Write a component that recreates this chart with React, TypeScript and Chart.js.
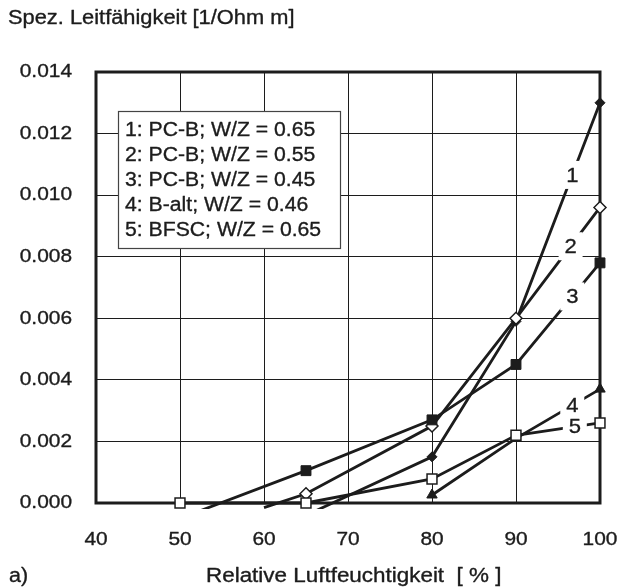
import { useEffect, useRef } from 'react';
import { Chart, registerables } from 'chart.js';

Chart.register(...registerables);

// ---------- data ----------
const humidity1 = [65, 80, 90, 100];
const conductivity1 = [-0.0004, 0.0015, 0.0059, 0.013];
const humidity2 = [60, 65, 80, 90, 100];
const conductivity2 = [-0.00015, 0.0003, 0.0025, 0.006, 0.0096];
const humidity3 = [50, 65, 80, 90, 100];
const conductivity3 = [-0.0005, 0.00105, 0.0027, 0.0045, 0.0078];
const humidity4 = [80, 90, 100];
const conductivity4 = [0.00026, 0.0021, 0.0037];
const humidity5 = [50, 65, 80, 90, 100];
const conductivity5 = [0, 0, 0.00078, 0.0022, 0.0026];

const seriesNames = [
  '1: PC-B; W/Z = 0.65',
  '2: PC-B; W/Z = 0.55',
  '3: PC-B; W/Z = 0.45',
  '4: B-alt; W/Z = 0.46',
  '5: BFSC; W/Z = 0.65',
];
const curveNumbers = ['1', '2', '3', '4', '5'];
const curveLabelHumidity = [96.7, 96.5, 96.7, 96.7, 97.0];

const xTickValues = [40, 50, 60, 70, 80, 90, 100];
const xTickLabels = ['40', '50', '60', '70', '80', '90', '100'];
const yTickValues = [0, 0.002, 0.004, 0.006, 0.008, 0.01, 0.012, 0.014];
const yTickLabels = ['0.000', '0.002', '0.004', '0.006', '0.008', '0.010', '0.012', '0.014'];

const yAxisTitle = 'Spez. Leitfähigkeit [1/Ohm m]';
const xAxisTitle = 'Relative Luftfeuchtigkeit  [ % ]';
const panelLabel = 'a)';

// ---------- helpers ----------
const INK = '#1c1c1c';
const FONT = '"Liberation Sans", Arial, Helvetica, sans-serif';

function stext(
  ctx: CanvasRenderingContext2D,
  text: string,
  x: number,
  y: number,
  align: CanvasTextAlign,
  size: number,
  sx = 1.1,
) {
  ctx.save();
  ctx.font = `${size}px ${FONT}`;
  ctx.fillStyle = INK;
  ctx.strokeStyle = INK;
  ctx.lineWidth = 0.35;
  ctx.lineJoin = 'round';
  ctx.textBaseline = 'middle';
  ctx.textAlign = align;
  ctx.translate(x, y);
  ctx.scale(sx, 1);
  ctx.fillText(text, 0, 0);
  ctx.strokeText(text, 0, 0);
  ctx.restore();
}

function interp(xs: number[], ys: number[], x: number) {
  for (let i = 0; i < xs.length - 1; i++) {
    if (x >= xs[i] && x <= xs[i + 1]) {
      const t = (x - xs[i]) / (xs[i + 1] - xs[i]);
      return ys[i] + t * (ys[i + 1] - ys[i]);
    }
  }
  return ys[ys.length - 1];
}

const allX = [humidity1, humidity2, humidity3, humidity4, humidity5];
const allY = [conductivity1, conductivity2, conductivity3, conductivity4, conductivity5];

const decorPlugin = {
  id: 'decor',
  beforeDraw(chart: any) {
    const ctx = chart.ctx as CanvasRenderingContext2D;
    ctx.save();
    ctx.fillStyle = '#ffffff';
    ctx.fillRect(0, 0, chart.width, chart.height);
    ctx.restore();
  },
  beforeDatasetsDraw(chart: any) {
    const ctx = chart.ctx as CanvasRenderingContext2D;
    const a = chart.chartArea;
    ctx.save();
    ctx.strokeStyle = INK;
    ctx.lineWidth = 3;
    ctx.strokeRect(a.left, a.top, a.right - a.left, a.bottom - a.top);
    ctx.restore();
  },
  afterDatasetsDraw(chart: any) {
    const ctx = chart.ctx as CanvasRenderingContext2D;
    const xs = chart.scales.x;
    const ys = chart.scales.y;
    // curve number labels on the lines
    for (let i = 0; i < curveNumbers.length; i++) {
      const hx = curveLabelHumidity[i];
      const vy = interp(allX[i], allY[i], hx);
      const px = xs.getPixelForValue(hx);
      const py = ys.getPixelForValue(vy);
      ctx.save();
      ctx.fillStyle = '#ffffff';
      ctx.fillRect(px - 12, py - 14, 24, 28);
      ctx.restore();
      stext(ctx, curveNumbers[i], px, py + 1, 'center', 21, 1.05);
    }
    // tick labels
    for (let i = 0; i < yTickValues.length; i++) {
      stext(ctx, yTickLabels[i], 72, ys.getPixelForValue(yTickValues[i]), 'right', 19);
    }
    for (let i = 0; i < xTickValues.length; i++) {
      stext(ctx, xTickLabels[i], xs.getPixelForValue(xTickValues[i]), 540, 'center', 19);
    }
    // legend box
    ctx.save();
    ctx.fillStyle = '#ffffff';
    ctx.fillRect(118, 111, 222, 137);
    ctx.strokeStyle = '#444';
    ctx.lineWidth = 1.2;
    ctx.strokeRect(118.5, 111.5, 222, 137);
    ctx.restore();
    for (let i = 0; i < seriesNames.length; i++) {
      stext(ctx, seriesNames[i], 125, 130 + i * 25, 'left', 20, 1.06);
    }
    // titles
    stext(ctx, yAxisTitle, 8, 19, 'left', 19.5, 1.12);
    stext(ctx, xAxisTitle, 206, 577, 'left', 19.5, 1.15);
    stext(ctx, panelLabel, 9, 577, 'left', 19.5, 1.1);
  },
};

function mk(xsArr: number[], ysArr: number[]) {
  return xsArr.map((x, i) => ({ x, y: ysArr[i] }));
}

export default function App() {
  const ref = useRef<HTMLCanvasElement>(null);
  useEffect(() => {
    if (!ref.current) return;
    const clip = { left: 10, top: 10, right: 10, bottom: 6 };
    const base = {
      borderColor: INK,
      borderWidth: 2.8,
      showLine: true,
      tension: 0,
      clip,
      pointBorderColor: INK,
    };
    const vis = (arr: number[], r: number) => arr.map((v) => (v < 0 ? 0 : r));
    const chart = new Chart(ref.current, {
      type: 'scatter',
      data: {
        datasets: [
          {
            ...base,
            label: seriesNames[0],
            data: mk(humidity1, conductivity1),
            pointStyle: 'rectRot',
            pointRadius: vis(conductivity1, 5),
            pointBackgroundColor: INK,
            pointBorderWidth: 1,
            order: 5,
          },
          {
            ...base,
            label: seriesNames[1],
            data: mk(humidity2, conductivity2),
            pointStyle: 'rectRot',
            pointRadius: vis(conductivity2, 6),
            pointBackgroundColor: '#ffffff',
            pointBorderWidth: 1.5,
            order: 3,
          },
          {
            ...base,
            label: seriesNames[2],
            data: mk(humidity3, conductivity3),
            pointStyle: 'rect',
            pointRadius: vis(conductivity3, 7),
            pointBackgroundColor: INK,
            pointBorderWidth: 1,
            order: 1,
          },
          {
            ...base,
            label: seriesNames[3],
            data: mk(humidity4, conductivity4),
            pointStyle: 'triangle',
            pointRadius: humidity4.map((h) => (h === 90 ? 0 : 6)),
            pointBackgroundColor: INK,
            pointBorderWidth: 1,
            order: 4,
          },
          {
            ...base,
            label: seriesNames[4],
            data: mk(humidity5, conductivity5),
            pointStyle: 'rect',
            pointRadius: vis(conductivity5, 7),
            pointBackgroundColor: '#ffffff',
            pointBorderWidth: 1.5,
            order: 2,
          },
        ],
      },
      options: {
        responsive: false,
        animation: false,
        events: [],
        layout: { padding: { top: 72, right: 22, bottom: 0, left: 0 } },
        plugins: {
          legend: { display: false },
          tooltip: { enabled: false },
          title: { display: false },
        },
        scales: {
          x: {
            type: 'linear',
            min: 40,
            max: 100,
            ticks: { display: false, stepSize: 10 },
            grid: { color: INK, lineWidth: 1, drawTicks: false },
            border: { display: false },
            afterFit: (s: any) => {
              s.height = 84;
            },
          },
          y: {
            type: 'linear',
            min: 0,
            max: 0.014,
            ticks: { display: false, stepSize: 0.002 },
            grid: { color: INK, lineWidth: 1, drawTicks: false },
            border: { display: false },
            afterFit: (s: any) => {
              s.width = 96;
            },
          },
        },
      },
      plugins: [decorPlugin],
    } as any);
    return () => chart.destroy();
  }, []);
  return (
    <div style={{ position: 'absolute', left: 0, top: 0, width: 622, height: 587, background: '#fff' }}>
      <canvas ref={ref} width={622} height={587} style={{ display: 'block' }} />
    </div>
  );
}
